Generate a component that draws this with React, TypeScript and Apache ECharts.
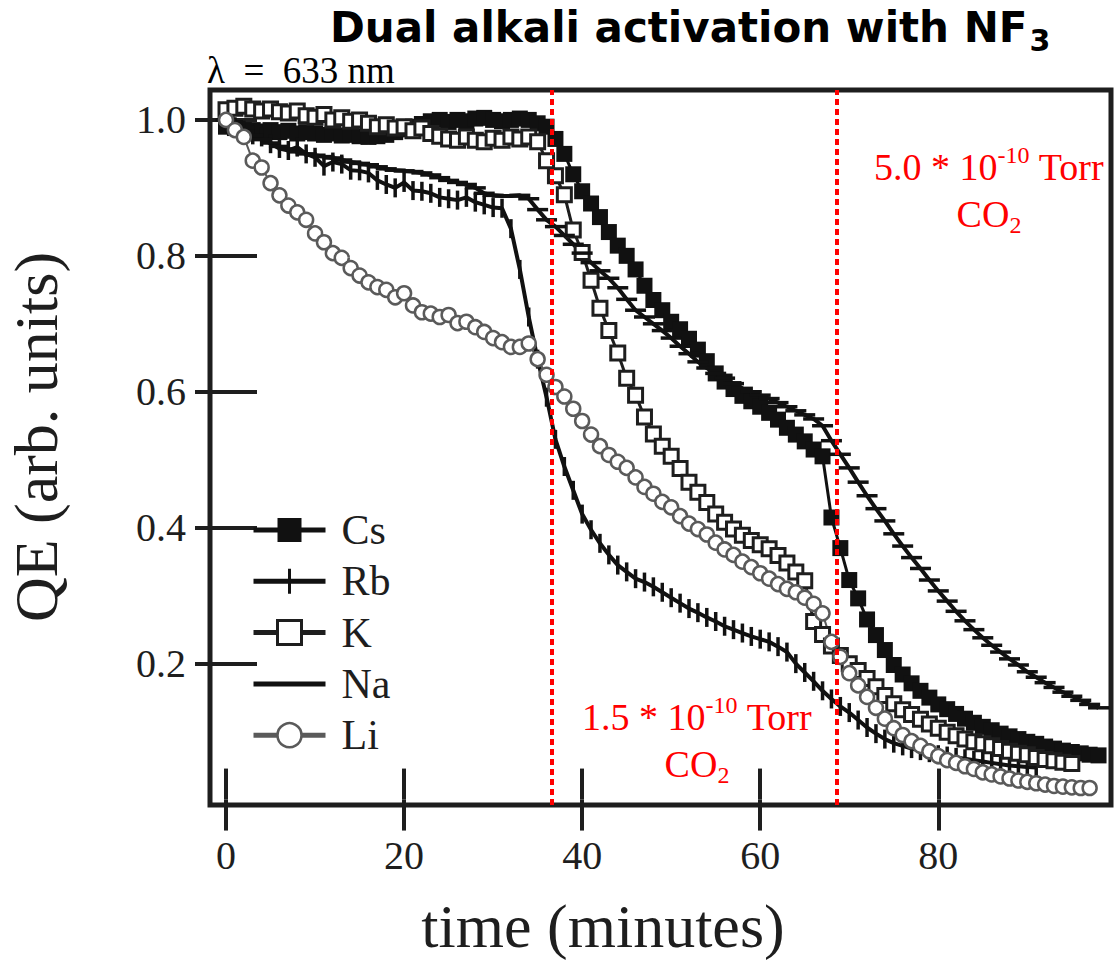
import React, { useEffect, useRef } from 'react';
import * as echarts from 'echarts';

// ---------- data ----------
const minutes = [
  0, 1, 2, 3, 4, 5, 6, 7, 8, 9, 10, 11, 12, 13, 14, 15, 16, 17, 18, 19,
  20, 21, 22, 23, 24, 25, 26, 27, 28, 29, 30, 31, 32, 33, 34, 35, 36, 37, 38, 39,
  40, 41, 42, 43, 44, 45, 46, 47, 48, 49, 50, 51, 52, 53, 54, 55, 56, 57, 58, 59,
  60, 61, 62, 63, 64, 65, 66, 67, 68, 69, 70, 71, 72, 73, 74, 75, 76, 77, 78, 79,
  80, 81, 82, 83, 84, 85, 86, 87, 88, 89, 90, 91, 92, 93, 94, 95, 96, 97, 98,
];

const csQE = [
  0.99, 0.988, 0.985, 0.985, 0.983, 0.985, 0.982, 0.984, 0.98, 0.982,
  0.98, 0.978, 0.98, 0.977, 0.978, 0.976, 0.975, 0.976, 0.978, 0.982,
  0.986, 0.99, 0.994, 0.998, 1.0, 0.997, 1.0, 0.998, 1.002, 1.003,
  1.0, 0.998, 1.0, 1.002, 1.0, 0.995, 0.99, 0.972, 0.95, 0.92,
  0.895, 0.877, 0.857, 0.835, 0.815, 0.8, 0.78, 0.756, 0.735, 0.72,
  0.703, 0.692, 0.678, 0.662, 0.645, 0.627, 0.615, 0.604, 0.594, 0.586,
  0.578, 0.569, 0.559, 0.547, 0.537, 0.527, 0.515, 0.505, 0.415, 0.37,
  0.323, 0.296, 0.265, 0.242, 0.22, 0.198, 0.184, 0.171, 0.16, 0.15,
  0.14, 0.133, 0.126, 0.119, 0.113, 0.107, 0.102, 0.097, 0.093, 0.089,
  0.085, 0.082, 0.078, 0.075, 0.072, 0.07, 0.068, 0.066, 0.065,
];

const rbQE = [
  1.0, 0.99, 0.985, 0.978, 0.975, 0.965, 0.958, 0.955, 0.96, 0.95,
  0.945, 0.932, 0.938, 0.935, 0.926, 0.925, 0.922, 0.911, 0.905, 0.9,
  0.908, 0.896, 0.895, 0.892, 0.886, 0.884, 0.882, 0.886, 0.879, 0.875,
  0.871, 0.87, 0.84, 0.78, 0.71, 0.648, 0.592, 0.53, 0.49, 0.455,
  0.42, 0.397, 0.377, 0.36, 0.345, 0.335, 0.325, 0.32, 0.313, 0.305,
  0.297, 0.289, 0.281, 0.275, 0.268, 0.262, 0.255, 0.25, 0.245, 0.24,
  0.236, 0.232, 0.225, 0.217, 0.2, 0.187, 0.174, 0.16, 0.148, 0.137,
  0.128, 0.117, 0.106, 0.097, 0.089, 0.083, 0.079, 0.075, 0.072, 0.069,
  0.066, 0.064, 0.062, 0.06, 0.058, 0.056, 0.054, 0.052, 0.05, 0.049,
  0.048, 0.047,
];

const kQE = [
  1.015, 1.017, 1.02, 1.016, 1.013, 1.016, 1.012, 1.01, 1.013, 1.006,
  1.004, 1.008, 1.0, 1.003, 0.998, 1.0, 0.995, 0.99, 0.993, 0.988,
  0.99, 0.984, 0.988, 0.98, 0.976, 0.972, 0.97, 0.975, 0.97, 0.968,
  0.973, 0.97, 0.975, 0.972, 0.975, 0.968, 0.94, 0.918, 0.89, 0.838,
  0.805, 0.764, 0.723, 0.69, 0.657, 0.62, 0.595, 0.563, 0.538, 0.52,
  0.505, 0.487, 0.467, 0.452, 0.437, 0.42, 0.408, 0.398, 0.389, 0.381,
  0.375, 0.369, 0.359, 0.348, 0.335, 0.322, 0.262, 0.243, 0.226, 0.212,
  0.2, 0.19, 0.178, 0.166, 0.153, 0.141, 0.132, 0.125, 0.118, 0.111,
  0.105, 0.099, 0.094, 0.089, 0.085, 0.082, 0.079, 0.075, 0.071, 0.068,
  0.066, 0.062, 0.059, 0.057, 0.055, 0.053,
];

const naQE = [
  1.0, 0.99, 0.984, 0.977, 0.971, 0.966, 0.961, 0.957, 0.953, 0.95,
  0.948, 0.946, 0.944, 0.941, 0.938, 0.936, 0.934, 0.931, 0.928, 0.926,
  0.925, 0.924, 0.922, 0.919, 0.915, 0.911, 0.908, 0.905, 0.9, 0.892,
  0.889, 0.888, 0.888, 0.889, 0.884, 0.868, 0.853, 0.843, 0.83, 0.817,
  0.804, 0.79, 0.778, 0.767, 0.753, 0.736, 0.72, 0.71, 0.7, 0.69,
  0.679, 0.667, 0.656, 0.644, 0.635, 0.627, 0.62, 0.612, 0.605, 0.6,
  0.595, 0.59, 0.584, 0.578, 0.572, 0.566, 0.56, 0.55, 0.528, 0.508,
  0.488, 0.467, 0.447, 0.428, 0.41, 0.391, 0.373, 0.356, 0.34, 0.323,
  0.307, 0.292, 0.277, 0.263, 0.25, 0.238, 0.227, 0.217, 0.207, 0.198,
  0.188, 0.18, 0.172, 0.165, 0.158, 0.152, 0.146, 0.14, 0.135,
];

const liQE = [
  1.0, 0.985, 0.975, 0.94, 0.93, 0.907, 0.889, 0.874, 0.864, 0.853,
  0.833, 0.82, 0.804, 0.797, 0.782, 0.771, 0.761, 0.754, 0.75, 0.739,
  0.745, 0.727, 0.717, 0.715, 0.71, 0.713, 0.701, 0.703, 0.695, 0.688,
  0.679, 0.673, 0.666, 0.666, 0.671, 0.648, 0.625, 0.607, 0.593, 0.575,
  0.557, 0.537, 0.52, 0.507, 0.497, 0.488, 0.474, 0.46, 0.45, 0.438,
  0.43, 0.417, 0.406, 0.398, 0.39, 0.378, 0.368, 0.36, 0.35, 0.342,
  0.333, 0.325, 0.317, 0.31, 0.305, 0.297, 0.288, 0.274, 0.232, 0.21,
  0.186, 0.168, 0.151, 0.135, 0.119, 0.105, 0.095, 0.086, 0.079, 0.071,
  0.064, 0.058, 0.054, 0.049, 0.045, 0.04, 0.037, 0.034, 0.031, 0.028,
  0.026, 0.024, 0.022, 0.02, 0.019, 0.018, 0.017, 0.017,
];

const co2Times = [36.6, 68.6];
const xTicks = [0, 20, 40, 60, 80];
const yTicks = [0.2, 0.4, 0.6, 0.8, 1.0];

// ---------- styling ----------
const SERIF = '"Liberation Serif", "Times New Roman", serif';
const SANS = '"DejaVu Sans", "Open Sans", sans-serif';
const INK = '#1e1e1e';
const BLACK = '#111111';
const LI_GRAY = '#5a5a5a';
const RED = '#ff0000';

const pairs = (vals: number[]) => vals.map((v, i) => [minutes[i], v]);

const X_MIN = -1.8;
const X_MAX = 99.4;
const Y_MIN = -0.008;
const Y_MAX = 1.044;

const tickStyle = { color: INK, width: 4 };

const redRich = {
  n: { fontFamily: SERIF, fontSize: 38, lineHeight: 47, fill: RED },
  p: { fontFamily: SERIF, fontSize: 24, lineHeight: 33, verticalAlign: 'top', fill: RED },
  b: { fontFamily: SERIF, fontSize: 24, lineHeight: 23, verticalAlign: 'bottom', fill: RED },
};

function buildOption(): any {
  return {
    animation: false,
    backgroundColor: '#ffffff',
    grid: {
      left: 210,
      top: 90,
      width: 901,
      height: 715,
      show: true,
      borderColor: INK,
      borderWidth: 5,
      backgroundColor: 'transparent',
    },
    xAxis: [
      {
        type: 'value',
        min: X_MIN,
        max: X_MAX,
        position: 'bottom',
        axisLine: { show: false },
        axisTick: { show: true, inside: true, length: 31, lineStyle: tickStyle, customValues: xTicks },
        axisLabel: {
          show: true,
          customValues: xTicks,
          margin: 30,
          fontFamily: SERIF,
          fontSize: 40,
          color: INK,
        },
        splitLine: { show: false },
      },
      {
        type: 'value',
        min: X_MIN,
        max: X_MAX,
        position: 'top',
        axisLine: { show: false },
        axisTick: { show: true, inside: true, length: 31, lineStyle: tickStyle, customValues: xTicks },
        axisLabel: { show: false },
        splitLine: { show: false },
      },
    ],
    yAxis: [
      {
        type: 'value',
        min: Y_MIN,
        max: Y_MAX,
        position: 'left',
        axisLine: { show: false },
        axisTick: { show: true, inside: true, length: 31, lineStyle: tickStyle, customValues: yTicks },
        axisLabel: {
          show: true,
          customValues: yTicks,
          margin: 24,
          fontFamily: SERIF,
          fontSize: 40,
          color: INK,
          formatter: (v: number) => v.toFixed(1),
        },
        splitLine: { show: false },
      },
      {
        type: 'value',
        min: Y_MIN,
        max: Y_MAX,
        position: 'right',
        axisLine: { show: false },
        axisTick: { show: true, inside: true, length: 31, lineStyle: tickStyle, customValues: yTicks },
        axisLabel: { show: false },
        splitLine: { show: false },
      },
    ],
    legend: {
      orient: 'vertical',
      left: 246,
      top: 504,
      itemWidth: 72,
      itemHeight: 30,
      itemGap: 9.3,
      selectedMode: false,
      textStyle: {
        fontFamily: SERIF,
        fontSize: 42,
        color: INK,
        lineHeight: 30,
        padding: [0, 0, 0, 11],
      },
      lineStyle: { width: 5 },
      data: [
        { name: 'Cs' },
        { name: 'Rb', icon: 'path://M0,10H72V15H0Z M34.5,0H37.5V25H34.5Z' },
        { name: 'K', itemStyle: { borderWidth: 3 } },
        { name: 'Na', icon: 'path://M0,0H72V5H0Z' },
        { name: 'Li', itemStyle: { borderWidth: 2.5 } },
      ],
    },
    series: [
      {
        name: 'Cs',
        type: 'line',
        data: pairs(csQE),
        symbol: 'rect',
        symbolSize: 16,
        showAllSymbol: true,
        itemStyle: { color: BLACK },
        lineStyle: { color: BLACK, width: 3 },
        emphasis: { disabled: true },
      },
      {
        name: 'Rb',
        type: 'line',
        data: pairs(rbQE),
        symbol: 'rect',
        symbolSize: [3.5, 19],
        showAllSymbol: true,
        itemStyle: { color: BLACK },
        lineStyle: { color: BLACK, width: 4 },
        emphasis: { disabled: true },
      },
      {
        name: 'K',
        type: 'line',
        data: pairs(kQE),
        symbol: 'rect',
        symbolSize: 14,
        showAllSymbol: true,
        itemStyle: { color: '#ffffff', borderColor: INK, borderWidth: 3 },
        lineStyle: { color: INK, width: 3 },
        emphasis: { disabled: true },
      },
      {
        name: 'Na',
        type: 'line',
        data: pairs(naQE),
        symbol: 'rect',
        symbolSize: [21, 3.5],
        showAllSymbol: true,
        itemStyle: { color: BLACK },
        lineStyle: { color: BLACK, width: 4 },
        emphasis: { disabled: true },
      },
      {
        name: 'Li',
        type: 'line',
        data: pairs(liQE),
        symbol: 'circle',
        symbolSize: 14,
        showAllSymbol: true,
        itemStyle: { color: '#ffffff', borderColor: LI_GRAY, borderWidth: 2.5 },
        lineStyle: { color: LI_GRAY, width: 2 },
        emphasis: { disabled: true },
        markLine: {
          silent: true,
          z: 10,
          symbol: ['none', 'none'],
          label: { show: false },
          lineStyle: { color: RED, width: 4, type: [6, 4] },
          emphasis: { disabled: true },
          data: co2Times.map((t) => ({ xAxis: t })),
        },
      },
    ],
    graphic: [
      {
        type: 'text',
        x: 330,
        y: 27,
        style: {
          text: '{m|Dual alkali activation with NF}{s|3}',
          align: 'left',
          verticalAlign: 'middle',
          rich: {
            m: { fontFamily: SANS, fontWeight: 'bold', fontSize: 42, fill: '#000' },
            s: {
              fontFamily: SANS,
              fontWeight: 'bold',
              fontSize: 30,
              fill: '#000',
              padding: [26, 0, 0, 2],
            },
          },
        },
      },
      {
        type: 'text',
        x: 207,
        y: 70,
        style: {
          text: 'λ  =  633 nm',
          fontFamily: SERIF,
          fontSize: 37,
          fill: '#000',
          align: 'left',
          verticalAlign: 'middle',
        },
      },
      {
        type: 'text',
        x: 989,
        y: 190,
        style: {
          text: '{n|5.0 * 10}{p|-10}{n| Torr}\n{n|CO}{b|2}',
          align: 'center',
          verticalAlign: 'middle',
          rich: redRich,
        },
      },
      {
        type: 'text',
        x: 697,
        y: 740,
        style: {
          text: '{n|1.5 * 10}{p|-10}{n| Torr}\n{n|CO}{b|2}',
          align: 'center',
          verticalAlign: 'middle',
          rich: redRich,
        },
      },
      {
        type: 'text',
        x: 603,
        y: 926,
        style: {
          text: 'time (minutes)',
          fontFamily: SERIF,
          fontSize: 62,
          fill: INK,
          align: 'center',
          verticalAlign: 'middle',
        },
      },
      {
        type: 'text',
        x: 36,
        y: 437,
        rotation: Math.PI / 2,
        style: {
          text: 'QE (arb. units)',
          fontFamily: SERIF,
          fontSize: 62,
          fill: INK,
          align: 'center',
          verticalAlign: 'middle',
        },
      },
    ],
  };
}

export default function App() {
  const ref = useRef<HTMLDivElement>(null);
  useEffect(() => {
    if (!ref.current) return;
    const chart = echarts.init(ref.current, null, { renderer: 'svg' });
    chart.setOption(buildOption());
    return () => {
      chart.dispose();
    };
  }, []);
  return (
    <div
      ref={ref}
      style={{ position: 'fixed', left: 0, top: 0, width: 1117, height: 963, background: '#fff' }}
    />
  );
}
